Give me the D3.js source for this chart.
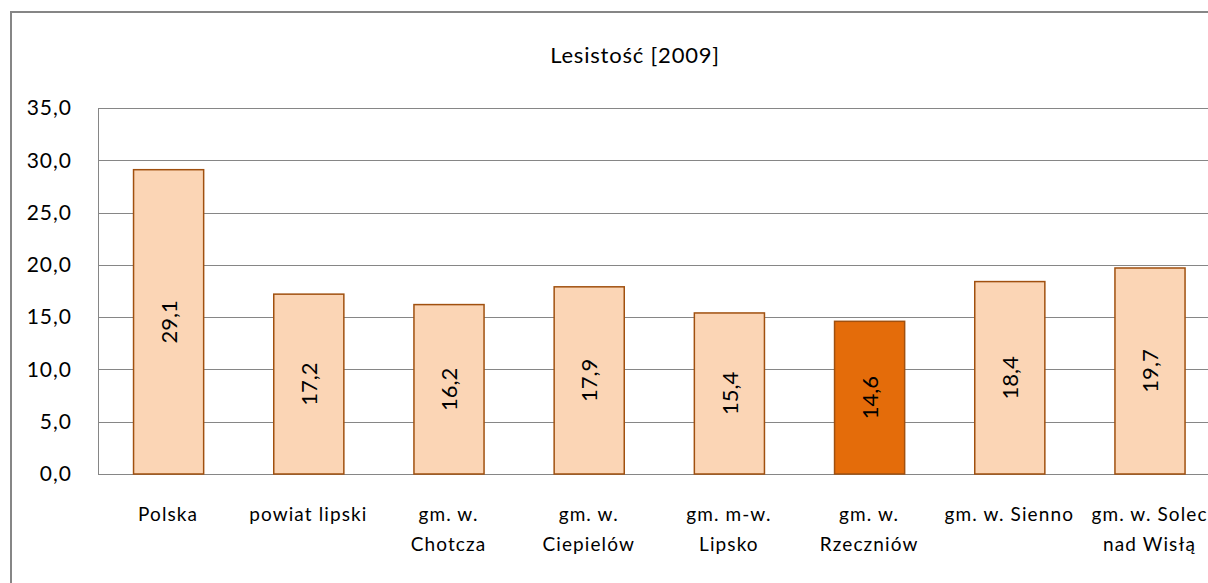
<!DOCTYPE html>
<html>
<head>
<meta charset="utf-8">
<script src="https://cdn.jsdelivr.net/npm/d3@7"></script>
<style>
  body { margin: 0; background: #fff; }
  svg text { font-family: Lato, "Open Sans", sans-serif; fill: #000; }
</style>
</head>
<body>
<div id="chart"></div>
<script>
const categories = [
  ["Polska"],
  ["powiat lipski"],
  ["gm. w.", "Chotcza"],
  ["gm. w.", "Ciepielów"],
  ["gm. m-w.", "Lipsko"],
  ["gm. w.", "Rzeczniów"],
  ["gm. w. Sienno"],
  ["gm. w. Solec", "nad Wisłą"]
];
const values = [29.1, 17.2, 16.2, 17.9, 15.4, 14.6, 18.4, 19.7];
const highlighted = [false, false, false, false, false, true, false, false];
const yTicks = [0, 5, 10, 15, 20, 25, 30, 35];

const width = 1208, height = 583;
const margin = { top: 108, left: 98, bottom: 109 };

const svg = d3.select("#chart").append("svg")
  .attr("width", width)
  .attr("height", height);

// chart frame (runs off the right and bottom edges)
svg.append("rect")
  .attr("x", 11).attr("y", 12)
  .attr("width", 1300).attr("height", 700)
  .attr("fill", "none")
  .attr("stroke", "#868686")
  .attr("stroke-width", 2);

svg.append("text")
  .attr("x", 635).attr("y", 63)
  .attr("text-anchor", "middle")
  .attr("font-size", 22)
  .attr("letter-spacing", 0.8)
  .text("Lesistość [2009]");

const x = d3.scaleBand()
  .domain(d3.range(categories.length))
  .range([margin.left, margin.left + 140.2 * categories.length])
  .paddingInner(0.5)
  .paddingOuter(0.25);

const y = d3.scaleLinear()
  .domain([0, 35])
  .range([height - margin.bottom, margin.top]);

// gridlines
svg.append("g")
  .selectAll("line")
  .data(yTicks)
  .join("line")
  .attr("x1", margin.left).attr("x2", width)
  .attr("y1", d => Math.round(y(d)) + 0.5)
  .attr("y2", d => Math.round(y(d)) + 0.5)
  .attr("stroke", "#868686")
  .attr("stroke-width", 1);

// y axis line
svg.append("line")
  .attr("x1", margin.left + 0.5).attr("x2", margin.left + 0.5)
  .attr("y1", y(35)).attr("y2", y(0))
  .attr("stroke", "#868686");

// y tick labels
svg.append("g")
  .selectAll("text")
  .data(yTicks)
  .join("text")
  .attr("x", 72)
  .attr("y", d => y(d))
  .attr("dy", "0.35em")
  .attr("text-anchor", "end")
  .attr("font-size", 21)
  .attr("letter-spacing", 1)
  .text(d => d.toFixed(1).replace(".", ","));

// bars
svg.append("g")
  .selectAll("rect")
  .data(values)
  .join("rect")
  .attr("x", (d, i) => x(i) + 0.5)
  .attr("y", d => y(d))
  .attr("width", x.bandwidth())
  .attr("height", d => y(0) - y(d))
  .attr("fill", (d, i) => highlighted[i] ? "#E46C0A" : "#FBD5B5")
  .attr("stroke", "#A0500F")
  .attr("stroke-width", 1.5);

// value labels, rotated, centred in the bar
svg.append("g")
  .selectAll("text")
  .data(values)
  .join("text")
  .attr("transform", (d, i) => `translate(${x(i) + x.bandwidth() / 2 + 1},${(y(d) + y(0)) / 2}) rotate(-90)`)
  .attr("text-anchor", "middle")
  .attr("dy", "0.35em")
  .attr("font-size", 22)
  .text(d => d.toFixed(1).replace(".", ","));

// category labels
const labels = svg.append("g")
  .selectAll("text")
  .data(categories)
  .join("text")
  .attr("x", (d, i) => x(i) + x.bandwidth() / 2)
  .attr("y", 521)
  .attr("text-anchor", "middle")
  .attr("font-size", 19)
  .attr("letter-spacing", 1.1);

labels.selectAll("tspan")
  .data(d => d)
  .join("tspan")
  .attr("x", function () { return d3.select(this.parentNode).attr("x"); })
  .attr("dy", (d, i) => i === 0 ? 0 : 30)
  .text(d => d);
</script>
</body>
</html>
